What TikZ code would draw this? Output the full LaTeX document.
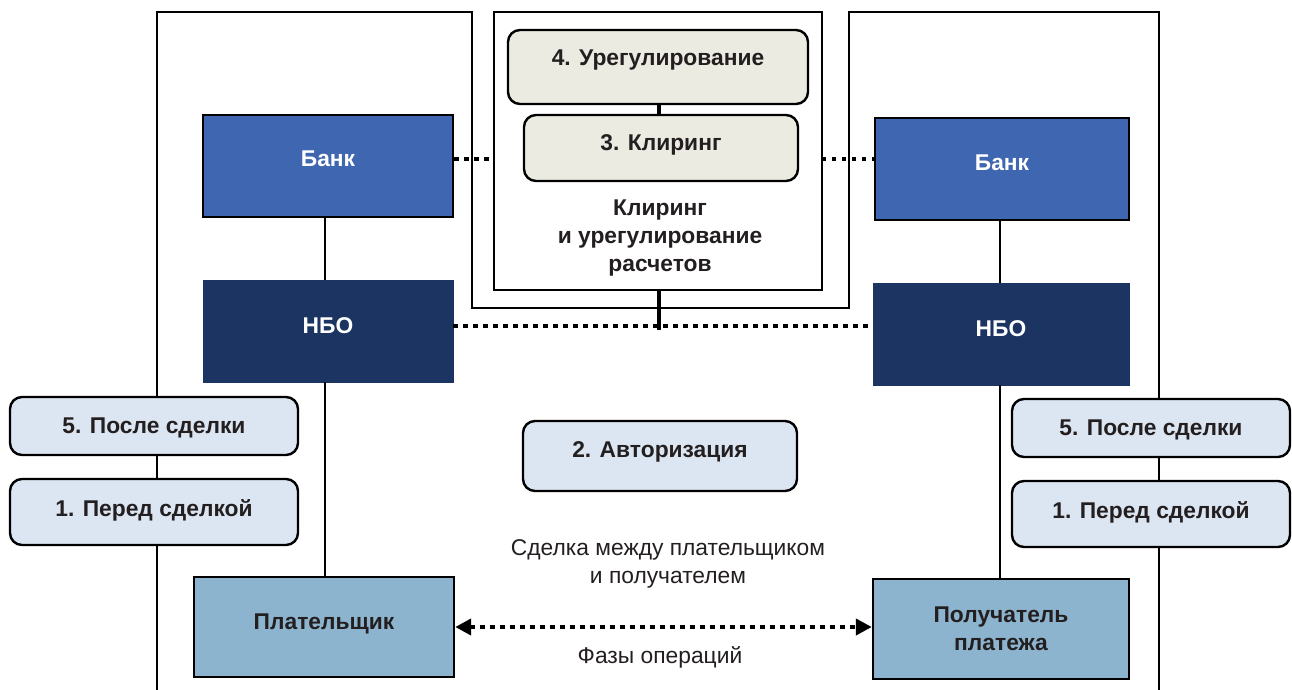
\documentclass[tikz,border=0pt]{standalone}
\usepackage{fontspec}
\setmainfont{Liberation Sans}
\usetikzlibrary{arrows.meta}

\definecolor{bankblue}{HTML}{3F66B0}
\definecolor{nbonavy}{HTML}{1C3461}
\definecolor{phasebeige}{HTML}{ECEBE1}
\definecolor{phaselight}{HTML}{DCE6F2}
\definecolor{partyblue}{HTML}{8DB4CF}
\definecolor{inktext}{HTML}{231F20}

\newcommand{\figfont}{\fontsize{11.4}{14}\selectfont}

\tikzset{
  frameline/.style={line width=1.4pt},
  link/.style={line width=0.8pt},
  thicklink/.style={line width=1.6pt},
  dotlink/.style={line width=2.2pt, dash pattern=on 2.2pt off 2.8pt},
  lift/.style={text height=8pt, text depth=#1},
  bankbox/.style={draw=black, line width=1.2pt, fill=bankblue, text=white,
    font=\figfont\bfseries, minimum width=125pt, minimum height=51pt},
  nbobox/.style={draw=nbonavy, fill=nbonavy, text=white,
    font=\figfont\bfseries, minimum width=125pt, minimum height=51pt},
  phasebox/.style={draw=black, line width=1.2pt, rounded corners=6pt,
    text=inktext, font=\figfont\bfseries},
  partybox/.style={draw=black, line width=1.2pt, fill=partyblue, text=inktext,
    font=\figfont\bfseries, align=center, minimum width=130pt, minimum height=50pt},
  caption/.style={text=inktext, align=center, font=\figfont},
}

\begin{document}
\begin{tikzpicture}[x=0.5pt, y=-0.5pt]
  \useasboundingbox (0,0) rectangle (1292,690);

  % frames
  \draw[frameline] (157,690) -- (157,12) -- (472,12) -- (472,308) -- (849,308)
    -- (849,12) -- (1159,12) -- (1159,690);
  \draw[frameline] (494,12) rectangle (822,290);

  \coordinate (inL) at (494,159);
  \coordinate (inR) at (822,159);
  \coordinate (inbot) at (659,290);
  \coordinate (nbolink) at (659,326);
  \coordinate (spineL) at (325,0);
  \coordinate (spineR) at (1000,0);

  % banks and NBO
  \node[bankbox, lift=7pt] (bankL) at (328,166) {Банк};
  \node[bankbox, lift=7pt, minimum width=127pt] (bankR) at (1002,169) {Банк};
  \node[nbobox, lift=6pt] (nboL) at (328,331) {НБО};
  \node[nbobox, lift=6pt, minimum width=128pt] (nboR) at (1001,334) {НБО};

  % payer and payee
  \node[partybox, lift=6pt] (payer) at (324,627) {Плательщик};
  \node[partybox, minimum width=128pt] (payee) at (1001,629) {Получатель\\платежа};

  \draw[link] (bankL.south -| spineL) -- (nboL.north -| spineL);
  \draw[link] (nboL.south -| spineL) -- (payer.north -| spineL);
  \draw[link] (bankR.south -| spineR) -- (nboR.north -| spineR);
  \draw[link] (nboR.south -| spineR) -- (payee.north -| spineR);

  % phases
  \node[phasebox, fill=phasebeige, lift=9pt, minimum width=150pt, minimum height=37pt]
    (settle) at (658,67) {4. Урегулирование};
  \node[phasebox, fill=phasebeige, lift=5pt, minimum width=137pt, minimum height=33pt]
    (clear) at (661,148) {3. Клиринг};
  \draw[thicklink] (settle.south -| inbot) -- (clear.north -| inbot);
  \node[caption, font=\figfont\bfseries] (clearcap) at (660,238)
    {Клиринг\\и урегулирование\\расчетов};

  \node[phasebox, fill=phaselight, lift=7pt, minimum width=137pt, minimum height=35pt]
    (auth) at (660,456) {2. Авторизация};
  \node[phasebox, fill=phaselight, lift=1pt, minimum width=144pt, minimum height=29pt]
    (postL) at (154,426) {5. После сделки};
  \node[phasebox, fill=phaselight, lift=4pt, minimum width=144pt, minimum height=33pt]
    (preL) at (154,512) {1. Перед сделкой};
  \node[phasebox, fill=phaselight, lift=1pt, minimum width=139pt, minimum height=29pt]
    (postR) at (1151,428) {5. После сделки};
  \node[phasebox, fill=phaselight, lift=4pt, minimum width=139pt, minimum height=33pt]
    (preR) at (1151,514) {1. Перед сделкой};

  % dotted links
  \draw[dotlink] (bankL.east |- inL) -- (inL);
  \draw[dotlink] (inR) -- (inR -| bankR.west);
  \draw[dotlink] (nboL.east |- nbolink) -- (nbolink -| nboR.west);
  \draw[thicklink] (inbot) -- ([yshift=-2pt]nbolink);

  \draw[dotlink, {Triangle[length=8pt, width=8pt]}-{Triangle[length=8pt, width=8pt]}]
    (payer.east) -- (payer.east -| payee.west);

  \node[caption] (dealcap) at (668,564) {Сделка между плательщиком\\и получателем};
  \node[caption] (phasecap) at (660,657) {Фазы операций};
\end{tikzpicture}
\end{document}
